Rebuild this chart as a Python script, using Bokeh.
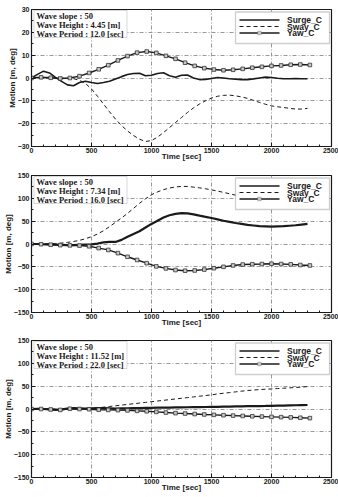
from bokeh.plotting import figure
from bokeh.layouts import column
from bokeh.models import (Range1d, Label, BoxAnnotation, Arrow, SingleIntervalTicker)
from bokeh.embed import file_html
from bokeh.resources import INLINE

# Sample times [sec]
t_fine = list(range(0, 2301, 50))
t_yaw = list(range(0, 2321, 80))

series_names = ["Surge_C", "Sway_C", "Yaw_C"]

# Case 1: H = 4.45 m, T = 12.0 s
surge_1 = [0, 1.6, 3.0, 2.2, 0.3, -1.5, -3.0, -3.4, -2.0, -1.4, -2.0, -2.4, -2.0, -1.4, -0.4,
           0.6, 1.5, 2.0, 2.1, 1.0, 1.2, 2.0, 2.3, 1.0, 0.3, 1.2, 1.3, 0.0, -0.7, -0.6, -0.2,
           0.2, 0.0, -0.3, -0.5, -0.7, -0.7, -0.4, 0.0, 0.4, 0.2, -0.1, -0.3, -0.3, -0.2, -0.3, -0.3]
sway_1 = [0, 0, 0, 0, 0, 0,
          -0.1, -0.3, -1.0, -2.4, -4.8, -8.0, -11.4, -14.8, -18.0, -20.8,
          -23.2, -25.2, -26.8, -27.8, -27.4, -25.9, -23.9, -21.7, -19.5, -17.3,
          -15.1, -13.1, -11.4, -10.0, -8.8, -8.0, -7.6, -7.5, -7.8, -8.3,
          -8.9, -9.8, -10.7, -11.5, -12.2, -12.6, -12.9, -13.3, -13.6, -13.6, -13.3]
yaw_1 = [0, 0.3, 0.1, -0.2, 0.0, 0.8, 2.2, 3.8, 5.6, 7.7, 9.6, 11.1, 11.6, 11.0, 9.7,
         8.4, 6.7, 5.3, 4.3, 3.7, 3.4, 3.6, 4.0, 4.5, 4.9, 5.3, 5.5, 5.8, 5.9, 5.7]

# Case 2: H = 7.34 m, T = 16.0 s
surge_2 = [0, 0, -0.5, -1, -1.5, -2, -2.5, -2.5, -2, -1.5, -1, 1, 3.5, 4.5, 4.5,
           9, 16, 22, 28, 36, 44, 51, 58, 63, 66, 67.5, 67, 65, 62, 59.5,
           57, 54, 51, 48.5, 46, 44, 42, 40.5, 39, 38.5, 38, 38.5, 39, 40, 41, 42.5, 44]
sway_2 = [0, 0, 0, 0.5, 1, 2, 3.5, 5.5, 8, 11.5, 16, 22, 29, 38, 47.5,
          57, 67, 78, 89, 99, 108, 114, 119, 122.5, 125, 126, 126, 124.5, 123, 121,
          118.5, 116, 113, 110, 107, 104, 101, 99, 97, 95, 93, 91.5, 90, 89, 88, 87, 86]
yaw_2 = [0, -0.5, -1.5, -2.5, -3, -3.5, -5, -9, -13, -20, -28, -35, -42, -49, -53.5,
         -57, -58.5, -58, -56, -53, -50, -47, -45, -44.3, -43.8, -43.2, -43.8, -44.6, -46, -47]

# Case 3: H = 11.52 m, T = 22.0 s
surge_3 = [0, 0.5, 0, -1, -2, -1, 1, 2, 1.5, 1, 1.5, 2, 2, 1.5, 1,
           1.5, 1.5, 2, 2, 2.5, 2.5, 3, 3, 3.2, 3.4, 3.6, 3.8, 4, 4.2, 4.4,
           4.6, 4.8, 5.1, 5.4, 5.7, 5.9, 6.1, 6.3, 6.5, 6.7, 7, 7.3, 7.6, 7.9, 8.2, 8.5, 8.8]
sway_3 = [0, 0, 0, 0, 0, 0, 0, 0, 0, 0.5, 1, 2.5, 4, 5.5, 7,
          8.5, 10, 11.5, 13, 14.5, 16, 17.5, 19, 20.5, 22, 23.5, 25, 26.5, 28, 29.5,
          31, 33, 34.5, 36, 37.5, 39, 40.5, 41.5, 42.5, 43.3, 44, 44.8, 45.5, 46.3, 47, 48, 49]
yaw_3 = [0, 0, -1, -2, 0.5, 0, -0.5, -1.5, -2, -2.5, -3, -4, -5, -6.3, -7.8,
         -9, -10, -11, -12, -12.8, -13.6, -14.4, -15.2, -16, -16.6, -17.2, -17.8, -18.4, -19.2, -20]

cases = [
    ("Wave slope : 50", "Wave Height : 4.45 [m]", "Wave Period : 12.0 [sec]"),
    ("Wave slope : 50", "Wave Height : 7.34 [m]", "Wave Period : 16.0 [sec]"),
    ("Wave slope : 50", "Wave Height : 11.52 [m]", "Wave Period : 22.0 [sec]"),
]

INK = "#1a1a1a"
SANS = "Liberation Sans"
SERIF = "Liberation Serif"


def make_panel(height, top_b, bottom_b, ylim, ystep, surge, sway, yaw, info, surge_w):
    frame_h = height - top_b - bottom_b
    p = figure(width=338, height=height, x_range=Range1d(0, 2500), y_range=Range1d(-ylim, ylim),
               output_backend="svg", toolbar_location=None,
               min_border_left=30, min_border_right=7,
               min_border_top=top_b, min_border_bottom=bottom_b)
    p.background_fill_color = "white"
    p.border_fill_color = "white"
    p.outline_line_color = INK
    p.outline_line_width = 1.2

    p.xaxis.ticker = SingleIntervalTicker(interval=500, num_minor_ticks=5)
    p.yaxis.ticker = SingleIntervalTicker(interval=ystep, num_minor_ticks=2)
    for ax in (p.xaxis[0], p.yaxis[0]):
        ax.major_tick_in = 4
        ax.major_tick_out = 0
        ax.minor_tick_in = 2
        ax.minor_tick_out = 0
        ax.axis_line_color = INK
        ax.major_tick_line_color = INK
        ax.minor_tick_line_color = INK
        ax.major_label_text_font = SANS
        ax.major_label_text_font_style = "bold"
        ax.major_label_text_font_size = "7px"
        ax.major_label_text_color = INK
        ax.axis_label_text_font = SANS
        ax.axis_label_text_font_style = "bold"
        ax.axis_label_text_font_size = "8px"
        ax.axis_label_text_color = INK
        ax.major_label_standoff = 1
    p.xaxis.axis_label = "Time [sec]"
    p.xaxis.axis_label_standoff = -4
    p.yaxis.axis_label = "Motion [m, deg]"
    p.yaxis.axis_label_standoff = -2
    p.yaxis.major_label_standoff = 2

    for g in (p.xgrid[0], p.ygrid[0]):
        g.grid_line_color = "#8c8c8c"
        g.grid_line_dash = "4 2 1 2"
        g.grid_line_width = 0.9

    # Time histories
    p.line(t_fine, sway, line_color=INK, line_width=1.0, line_dash="4 3")
    p.line(t_fine, surge, line_color=INK, line_width=surge_w)
    p.line(t_yaw, yaw, line_color=INK, line_width=1.4)
    p.scatter(t_yaw, yaw, marker="square", size=3.6, fill_color="#c8c8c8",
              line_color="#333333", line_width=0.8)

    # Wave condition box (upper left)
    p.add_layout(BoxAnnotation(left=2.5, right=95.5, top=frame_h - 1, bottom=frame_h - 28,
                               left_units="screen", right_units="screen",
                               top_units="screen", bottom_units="screen",
                               fill_color="white", fill_alpha=1.0,
                               line_color="#808080", line_width=1))
    for i, txt in enumerate(info):
        p.add_layout(Label(x=5, y=frame_h - 6 - 9 * i, x_units="screen", y_units="screen",
                           text=txt, text_font=SERIF, text_font_style="bold",
                           text_font_size="8.5px", text_color=INK, text_baseline="middle"))

    # Legend box (upper right)
    p.add_layout(BoxAnnotation(left=204, right=298, top=frame_h - 2.5, bottom=frame_h - 34,
                               left_units="screen", right_units="screen",
                               top_units="screen", bottom_units="screen",
                               fill_color="white", fill_alpha=1.0,
                               line_color="#606060", line_width=1.3))
    styles = [(1.5, None), (1.0, "4 3"), (1.4, None)]
    for i, (name, (lw, dash)) in enumerate(zip(series_names, styles)):
        ys = frame_h - 10.5 - 6.5 * i
        kw = dict(line_dash=dash) if dash else {}
        p.add_layout(Arrow(x_start=208, x_end=248, y_start=ys, y_end=ys,
                           start_units="screen", end_units="screen", end=None,
                           line_color=INK, line_width=lw, **kw))
        p.add_layout(Label(x=255.5, y=ys, x_units="screen", y_units="screen",
                           text=name, text_font=SANS, text_font_style="bold",
                           text_font_size="8.5px", text_color=INK, text_baseline="middle"))
    ym = frame_h - 10.5 - 13
    p.add_layout(BoxAnnotation(left=226.2, right=229.8, top=ym + 1.8, bottom=ym - 1.8,
                               left_units="screen", right_units="screen",
                               top_units="screen", bottom_units="screen",
                               fill_color="#c8c8c8", fill_alpha=1.0,
                               line_color="#333333", line_width=0.8))
    return p


p1 = make_panel(166, 9, 20, 30, 10, surge_1, sway_1, yaw_1, cases[0], 1.6)
p2 = make_panel(166, 9, 20, 150, 50, surge_2, sway_2, yaw_2, cases[1], 2.2)
p3 = make_panel(165, 8, 20, 150, 50, surge_3, sway_3, yaw_3, cases[2], 2.2)

layout = column(p1, p2, p3, spacing=0)
open("out.html", "w").write(file_html(layout, INLINE))
